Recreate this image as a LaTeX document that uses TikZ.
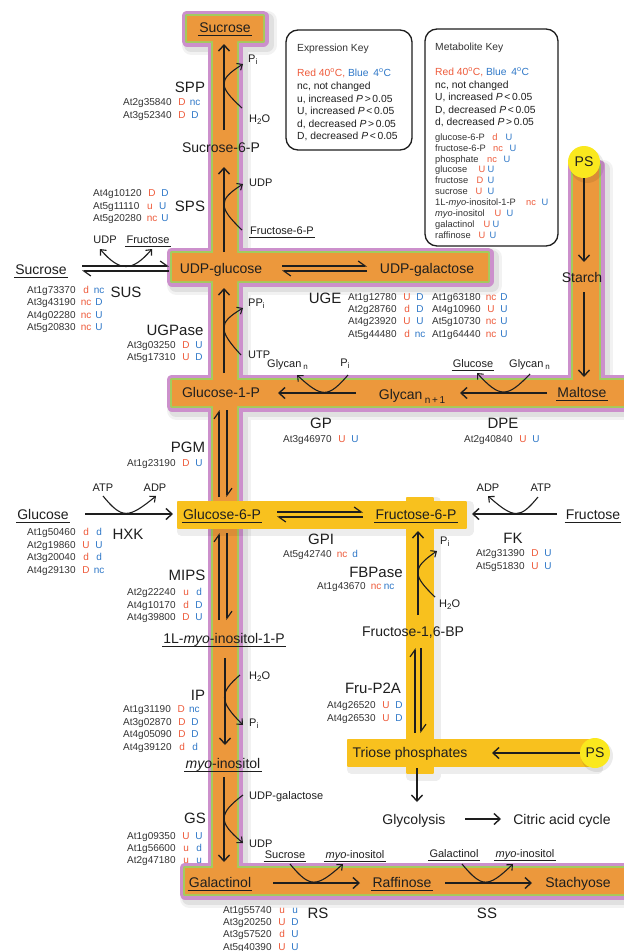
\documentclass[tikz,border=0pt]{standalone}
\usepackage{fontspec}
\setmainfont{Liberation Sans}
\usetikzlibrary{arrows.meta}
\definecolor{myred}{HTML}{EE5A3A}
\definecolor{myblue}{HTML}{2F78C8}
\definecolor{barorange}{HTML}{EC983C}
\definecolor{bargreen}{HTML}{A2CC5E}
\definecolor{barpurple}{HTML}{CC90CC}
\definecolor{baryellow}{HTML}{F8C11E}
\definecolor{psyellow}{HTML}{FAE81E}
\definecolor{ink}{HTML}{1E1E1E}
\definecolor{genegray}{HTML}{333333}
\newcommand\rc[1]{\makebox[13pt]{\textcolor{myred}{#1}}}
\newcommand\bc[1]{\makebox[13pt]{\textcolor{myblue}{#1}}}
\newcommand\gn[3]{#1\hspace{4pt}\rc{#2}\bc{#3}}
\newcommand\sbx[1]{\raisebox{-2.5pt}{\fontsize{8}{8}\selectfont #1}}
\newcommand\myo{\textit{myo}}
\newcommand\dg{\textsuperscript{o}}
\newcommand\mitem[7]{%
  \node[item] (#1) at (435,#2) {#3};
  \node[itemc,text=myred] (#1r) at (#4,#2) {#5};
  \node[itemc,text=myblue] (#1b) at (#6,#2) {#7};}
\def\barshape{(187,16) rectangle (263,41) (213,16) rectangle (237,893) (172,253) rectangle (488,281) (172,380) rectangle (632,406) (573,165) rectangle (599,406) (185,868) rectangle (632,894)}
\def\yshape{(178,502) rectangle (466,528) (407,498) rectangle (433,773) (348,740) rectangle (595,766)}
\begin{document}
\begin{tikzpicture}[x=1pt,y=-1pt,
  main/.style={font=\fontsize{14}{16}\selectfont, text=ink, inner xsep=1pt, inner ysep=0pt, text height=10pt, text depth=0pt},
  enz/.style={font=\fontsize{15}{17}\selectfont, text=ink, inner sep=0pt, text height=10.8pt, text depth=0pt},
  sm/.style={font=\fontsize{11}{13}\selectfont, text=ink, inner xsep=1pt, inner ysep=0pt, text height=8pt, text depth=0pt},
  gene/.style={font=\fontsize{10}{12}\selectfont, text=genegray, anchor=west, inner sep=0pt, text height=7.2pt, text depth=0pt},
  key/.style={font=\fontsize{10.3}{12}\selectfont, text=ink, anchor=west, inner sep=0pt, text height=7.2pt, text depth=0pt},
  item/.style={font=\fontsize{9.3}{10}\selectfont, text=genegray, anchor=west, inner sep=0pt, text height=6.5pt, text depth=0pt},
  itemc/.style={font=\fontsize{9.3}{10}\selectfont, inner sep=0pt, text height=6.5pt, text depth=0pt},
  ul/.style={append after command={([yshift=-3.5pt]\tikzlastnode.south west) edge[draw=ink, line width=0.8pt] ([yshift=-3.5pt]\tikzlastnode.south east)}},
  arr/.style={draw=ink, line width=1.4pt, -{Straight Barb[length=6pt,width=11pt]}},
  barr/.style={draw=ink, line width=1.1pt, -{Straight Barb[length=4.5pt,width=8pt]}},
  bbarr/.style={draw=ink, line width=1.1pt, {Straight Barb[length=4.5pt,width=8pt]}-{Straight Barb[length=4.5pt,width=8pt]}},
  harp/.style={draw=ink, line width=1.2pt, -{Straight Barb[harpoon,length=7pt,width=10pt]}},
  psnode/.style={circle, fill=psyellow, inner sep=0pt, font=\fontsize{14}{16}\selectfont, text=ink}
]
\useasboundingbox (0,0) rectangle (624,951);
\fill[white] (0,0) rectangle (624,951);
\clip (0,0) rectangle (624,951);

% ---------- coloured bands ----------
\begin{scope}[shift={(4,4)}]
  \draw[black, opacity=0.05, line width=19pt, line join=round] \barshape;
  \draw[black, opacity=0.07, line width=14pt, line join=round] \barshape;
\end{scope}
\draw[barpurple, fill=barpurple, line width=11pt, line join=round] \barshape;
\draw[bargreen, fill=bargreen, line width=4.5pt, line join=round] \barshape;
\fill[barorange] \barshape;

\begin{scope}[shift={(3,3)}]
  \draw[black, opacity=0.07, line width=9pt, line join=round] \yshape;
\end{scope}
\draw[baryellow, fill=baryellow, line width=2pt, line join=round] \yshape;

\fill[black, opacity=0.08] (587,166) circle (17);
\fill[black, opacity=0.08] (597,756) circle (16);
\node[psnode, minimum size=32pt] (ps1) at (584,162) {PS};
\node[psnode, minimum size=30pt] (ps2) at (595,753) {PS};

% ---------- key boxes ----------
\draw[ink, line width=1.3pt, rounded corners=12pt, fill=white] (286,30) rectangle (412,150);
\draw[ink, line width=1.3pt, rounded corners=12pt, fill=white] (425,29) rectangle (558,246);
\node[key] (ek0) at (297,48) {\textcolor{genegray}{Expression Key}};
\node[key] (ek1) at (297,73) {\textcolor{myred}{Red 40\dg C,} \textcolor{myblue}{Blue\, 4\dg C}};
\node[key] (ek2) at (297,86) {nc, not changed};
\node[key] (ek3) at (297,98.5) {u, increased \textit{P}\,>\,0.05};
\node[key] (ek4) at (297,111) {U, increased \textit{P}\,<\,0.05};
\node[key] (ek5) at (297,123.5) {d, decreased \textit{P}\,>\,0.05};
\node[key] (ek6) at (297,136) {D, decreased \textit{P}\,<\,0.05};
\node[key] (mk0) at (435,47) {\textcolor{genegray}{Metabolite Key}};
\node[key] (mk1) at (435,72) {\textcolor{myred}{Red 40\dg C,} \textcolor{myblue}{Blue\, 4\dg C}};
\node[key] (mk2) at (435,84.5) {nc, not changed};
\node[key] (mk3) at (435,97) {U, increased \textit{P}\,<\,0.05};
\node[key] (mk4) at (435,109.5) {D, decreased \textit{P}\,<\,0.05};
\node[key] (mk5) at (435,122) {d, decreased \textit{P}\,>\,0.05};
\mitem{mi1}{137}{glucose-6-P}{495}{d}{509}{U}
\mitem{mi2}{147.9}{fructose-6-P}{498}{nc}{513}{U}
\mitem{mi3}{158.8}{phosphate}{492}{nc}{507}{U}
\mitem{mi4}{169.7}{glucose}{482}{U}{491}{U}
\mitem{mi5}{180.6}{fructose}{480}{D}{491}{U}
\mitem{mi6}{191.5}{sucrose}{479}{U}{491}{U}
\mitem{mi7}{202.4}{1L-\myo-inositol-1-P}{531}{nc}{545}{U}
\mitem{mi8}{213.3}{\myo-inositol}{498}{U}{510}{U}
\mitem{mi9}{224.2}{galactinol}{487}{U}{496}{U}
\mitem{mi10}{235.1}{raffinose}{482}{U}{493}{U}

% ---------- metabolites ----------
\node[main, ul] (sucT) at (225,27) {Sucrose};
\node[main] (s6p) at (221,147) {Sucrose-6-P};
\node[main] (udpg) at (221,268) {UDP-glucose};
\node[main] (udpgal) at (427,268) {UDP-galactose};
\node[main] (g1p) at (221,392) {Glucose-1-P};
\node[main] (glycn1) at (412,394) {Glycan\,\raisebox{-4pt}{\fontsize{10}{10}\selectfont n\,+\,1}};
\node[main, ul] (malt) at (582,392) {Maltose};
\node[main] (starch) at (582,277) {Starch};
\node[main, ul] (glcL) at (43,514) {Glucose};
\node[main, ul] (g6p) at (222,514) {Glucose-6-P};
\node[main, ul] (f6p) at (416,514) {Fructose-6-P};
\node[main, ul] (fruR) at (593,514) {Fructose};
\node[main] (f16bp) at (413,631) {Fructose-1,6-BP};
\node[main, ul] (mip) at (224,638) {1L-\myo-inositol-1-P};
\node[main, ul] (myo) at (223,763) {\myo-inositol};
\node[main] (triose) at (410,752) {Triose phosphates};
\node[main] (glyco) at (414,819) {Glycolysis};
\node[main] (tca) at (562,819) {Citric acid cycle};
\node[main, ul] (galact) at (220,882) {Galactinol};
\node[main, ul] (raff) at (402,882) {Raffinose};
\node[main] (stach) at (578,882) {Stachyose};
\node[main, ul] (sucL) at (41,269) {Sucrose};

% ---------- enzymes ----------
\node[enz] (eSPP) at (190,87) {SPP};
\node[enz] (eSPS) at (190,206) {SPS};
\node[enz] (eSUS) at (126,292) {SUS};
\node[enz] (eUGP) at (175,330) {UGPase};
\node[enz] (eUGE) at (325,298) {UGE};
\node[enz] (eGP) at (321,423) {GP};
\node[enz] (eDPE) at (503,423) {DPE};
\node[enz] (ePGM) at (188,447) {PGM};
\node[enz] (eHXK) at (128,534) {HXK};
\node[enz] (eGPI) at (321,539) {GPI};
\node[enz] (eFK) at (513,538) {FK};
\node[enz] (eFBP) at (376,572) {FBPase};
\node[enz] (eMIPS) at (187,575) {MIPS};
\node[enz] (eFRU) at (373,688) {Fru-P2A};
\node[enz] (eIP) at (198,695) {IP};
\node[enz] (eGS) at (195,818) {GS};
\node[enz] (eRS) at (318,913) {RS};
\node[enz] (eSS) at (487,913) {SS};

% ---------- co-substrates ----------
\node[sm, anchor=west] (sppPi) at (247,58) {P\sbx{i}};
\node[sm, anchor=west] (sppH2O) at (248,118) {H\sbx{2}O};
\node[sm, anchor=west] (spsUDP) at (248,182) {UDP};
\node[sm, anchor=west, ul] (spsF6P) at (249,230) {Fructose-6-P};
\node[sm] (susUDP) at (105,239) {UDP};
\node[sm, ul] (susFru) at (148,239) {Fructose};
\node[sm, anchor=west] (ugpPPi) at (247,302) {PP\sbx{i}};
\node[sm, anchor=west] (ugpUTP) at (247,354) {UTP};
\node[sm, anchor=west] (gpGly) at (266,363) {Glycan\,\sbx{n}};
\node[sm] (gpPi) at (345,362) {P\sbx{i}};
\node[sm, ul] (dpeGlc) at (473,363) {Glucose};
\node[sm, anchor=west] (dpeGly) at (508,363) {Glycan\,\sbx{n}};
\node[sm] (hxkATP) at (103,487) {ATP};
\node[sm] (hxkADP) at (155,487) {ADP};
\node[sm] (fkADP) at (488,487) {ADP};
\node[sm] (fkATP) at (541,487) {ATP};
\node[sm, anchor=west] (fbPi) at (439,540) {P\sbx{i}};
\node[sm, anchor=west] (fbH2O) at (438,603) {H\sbx{2}O};
\node[sm, anchor=west] (ipH2O) at (248,675) {H\sbx{2}O};
\node[sm, anchor=west] (ipPi) at (248,722) {P\sbx{i}};
\node[sm, anchor=west] (gsUDPgal) at (248,795) {UDP-galactose};
\node[sm, anchor=west] (gsUDP) at (248,843) {UDP};
\node[sm, ul] (rsSuc) at (285,854) {Sucrose};
\node[sm, ul] (rsMyo) at (355,854) {\myo-inositol};
\node[sm, ul] (ssGal) at (454,853) {Galactinol};
\node[sm, ul] (ssMyo) at (525,853) {\myo-inositol};

% ---------- genes ----------
\node[gene] (g01) at (123,102) {\gn{At2g35840}{D}{nc}};
\node[gene] (g02) at (123,115) {\gn{At3g52340}{D}{D}};
\node[gene] (g03) at (93,193) {\gn{At4g10120}{D}{D}};
\node[gene] (g04) at (93,206) {\gn{At5g11110}{u}{U}};
\node[gene] (g05) at (93,218) {\gn{At5g20280}{nc}{U}};
\node[gene] (g06) at (27,290) {\gn{At1g73370}{d}{nc}};
\node[gene] (g07) at (27,302) {\gn{At3g43190}{nc}{D}};
\node[gene] (g08) at (27,314.5) {\gn{At4g02280}{nc}{U}};
\node[gene] (g09) at (27,327) {\gn{At5g20830}{nc}{U}};
\node[gene] (g10) at (127,345) {\gn{At3g03250}{D}{U}};
\node[gene] (g11) at (127,357) {\gn{At5g17310}{U}{D}};
\node[gene] (g12) at (348,297) {\gn{At1g12780}{U}{D}};
\node[gene] (g13) at (348,309) {\gn{At2g28760}{d}{D}};
\node[gene] (g14) at (348,321) {\gn{At4g23920}{U}{U}};
\node[gene] (g15) at (348,334) {\gn{At5g44480}{d}{nc}};
\node[gene] (g16) at (432,297) {\gn{At1g63180}{nc}{D}};
\node[gene] (g17) at (432,309) {\gn{At4g10960}{U}{U}};
\node[gene] (g18) at (432,321) {\gn{At5g10730}{nc}{U}};
\node[gene] (g19) at (432,334) {\gn{At1g64440}{nc}{U}};
\node[gene] (g20) at (283,439) {\gn{At3g46970}{U}{U}};
\node[gene] (g21) at (464,439) {\gn{At2g40840}{U}{U}};
\node[gene] (g22) at (127,463) {\gn{At1g23190}{D}{U}};
\node[gene] (g23) at (27,532) {\gn{At1g50460}{d}{d}};
\node[gene] (g24) at (27,544.5) {\gn{At2g19860}{U}{U}};
\node[gene] (g25) at (27,557) {\gn{At3g20040}{d}{d}};
\node[gene] (g26) at (27,569.5) {\gn{At4g29130}{D}{nc}};
\node[gene] (g27) at (283,554) {\gn{At5g42740}{nc}{d}};
\node[gene] (g28) at (476,553) {\gn{At2g31390}{D}{U}};
\node[gene] (g29) at (476,566) {\gn{At5g51830}{U}{U}};
\node[gene] (g30) at (317,586) {\gn{At1g43670}{nc}{nc}};
\node[gene] (g31) at (127,592) {\gn{At2g22240}{u}{d}};
\node[gene] (g32) at (127,604.5) {\gn{At4g10170}{d}{D}};
\node[gene] (g33) at (127,617) {\gn{At4g39800}{D}{U}};
\node[gene] (g34) at (327,705) {\gn{At4g26520}{U}{D}};
\node[gene] (g35) at (327,718) {\gn{At4g26530}{U}{D}};
\node[gene] (g36) at (123,709) {\gn{At1g31190}{D}{nc}};
\node[gene] (g37) at (123,721.5) {\gn{At3g02870}{D}{D}};
\node[gene] (g38) at (123,734) {\gn{At4g05090}{D}{D}};
\node[gene] (g39) at (123,746.5) {\gn{At4g39120}{d}{d}};
\node[gene] (g40) at (127,836) {\gn{At1g09350}{U}{U}};
\node[gene] (g41) at (127,848) {\gn{At1g56600}{u}{d}};
\node[gene] (g42) at (127,860) {\gn{At2g47180}{u}{u}};
\node[gene] (g43) at (223,910) {\gn{At1g55740}{u}{u}};
\node[gene] (g44) at (223,922) {\gn{At3g20250}{U}{D}};
\node[gene] (g45) at (223,934) {\gn{At3g57520}{d}{U}};
\node[gene] (g46) at (223,946.5) {\gn{At5g40390}{U}{U}};

% ---------- coordinates for connectors ----------
\coordinate (sppA) at (224,130); \coordinate (sppB) at (224,44);
\coordinate (sppH) at (242,108); \coordinate (sppP) at (243,64);
\coordinate (spsA) at (224,252); \coordinate (spsB) at (224,167);
\coordinate (spsF) at (242,230); \coordinate (spsU) at (243,184);
\coordinate (ugpA) at (224,373); \coordinate (ugpB) at (224,288);
\coordinate (ugpT) at (241,355); \coordinate (ugpP) at (243,308);
\coordinate (ipA) at (225,658); \coordinate (ipB) at (225,745);
\coordinate (ipH) at (240,675); \coordinate (ipP) at (243,725);
\coordinate (gsA) at (224,777); \coordinate (gsB) at (224,862);
\coordinate (gsG) at (243,795); \coordinate (gsU) at (243,843);
\coordinate (fbA) at (418,615); \coordinate (fbB) at (418,531);
\coordinate (fbH) at (435,597); \coordinate (fbP) at (437,551);
\coordinate (susL1) at (82,266); \coordinate (susR1) at (169,266);
\coordinate (susL2) at (82,271); \coordinate (susR2) at (169,271);
\coordinate (susU) at (100,249); \coordinate (susF) at (152,249);
\coordinate (ugeL1) at (282,266); \coordinate (ugeR1) at (367,266);
\coordinate (ugeL2) at (282,271); \coordinate (ugeR2) at (367,271);
\coordinate (gpA) at (356,393); \coordinate (gpB) at (278,393);
\coordinate (gpP) at (348,375); \coordinate (gpG) at (297,375);
\coordinate (dpeA) at (547,393); \coordinate (dpeB) at (460,393);
\coordinate (dpeG) at (530,374); \coordinate (dpeC) at (477,373);
\coordinate (hxA) at (85,514); \coordinate (hxB) at (173,514);
\coordinate (hxT) at (103,496); \coordinate (hxD) at (156,496);
\coordinate (fkA) at (557,514); \coordinate (fkB) at (472,514);
\coordinate (fkT) at (538,497); \coordinate (fkD) at (488,496);
\coordinate (gpiL1) at (277,512); \coordinate (gpiR1) at (363,512);
\coordinate (gpiL2) at (277,517); \coordinate (gpiR2) at (363,517);
\coordinate (pgmT1) at (219,410); \coordinate (pgmB1) at (219,497);
\coordinate (pgmT2) at (227,410); \coordinate (pgmB2) at (227,497);
\coordinate (mipsT1) at (219,533); \coordinate (mipsB1) at (219,620);
\coordinate (mipsT2) at (227,533); \coordinate (mipsB2) at (227,620);
\coordinate (fruT1) at (415,648); \coordinate (fruB1) at (415,733);
\coordinate (fruT2) at (421,648); \coordinate (fruB2) at (421,733);
\coordinate (stA) at (584,262); \coordinate (stB) at (584,292); \coordinate (stC) at (584,377);
\coordinate (trB) at (492,753);
\coordinate (glA) at (417,768); \coordinate (glB) at (417,802);
\coordinate (tcA) at (465,819); \coordinate (tcB) at (501,819);
\coordinate (rsA) at (273,883); \coordinate (rsB) at (360,883);
\coordinate (rsS) at (290,864); \coordinate (rsM) at (343,864);
\coordinate (ssA) at (445,883); \coordinate (ssB) at (532,883);
\coordinate (ssG) at (462,864); \coordinate (ssM) at (513,864);

% ---------- connectors ----------
\draw[arr] (sppA) -- (sppB);
\draw[barr] (sppH) .. controls (218,86) and (218,80) .. (sppP);
\draw[arr] (spsA) -- (spsB);
\draw[barr] (spsF) .. controls (218,207) and (218,200) .. (spsU);
\draw[arr] (ugpA) -- (ugpB);
\draw[barr] (ugpT) .. controls (218,330) and (218,323) .. (ugpP);
\draw[arr] (ipA) -- (ipB);
\draw[barr] (ipH) .. controls (219,693) and (219,701) .. (ipP);
\draw[arr] (gsA) -- (gsB);
\draw[barr] (gsG) .. controls (218,814) and (218,822) .. (gsU);
\draw[arr] (fbA) -- (fbB);
\draw[barr] (fbH) .. controls (412,575) and (412,568) .. (fbP);

\draw[harp] (susL1) -- (susR1);
\draw[harp] (susR2) -- (susL2);
\draw[bbarr] (susU) .. controls (120,272) and (132,272) .. (susF);
\draw[harp] (ugeL1) -- (ugeR1);
\draw[harp] (ugeR2) -- (ugeL2);
\draw[arr] (gpA) -- (gpB);
\draw[barr] (gpP) .. controls (328,398) and (322,398) .. (gpG);
\draw[arr] (dpeA) -- (dpeB);
\draw[barr] (dpeG) .. controls (507,398) and (500,398) .. (dpeC);
\draw[arr] (hxA) -- (hxB);
\draw[barr] (hxT) .. controls (122,519) and (128,519) .. (hxD);
\draw[arr] (fkA) -- (fkB);
\draw[barr] (fkT) .. controls (520,519) and (514,519) .. (fkD);
\draw[harp] (gpiL1) -- (gpiR1);
\draw[harp] (gpiR2) -- (gpiL2);
\draw[harp] (pgmB1) -- (pgmT1);
\draw[harp] (pgmT2) -- (pgmB2);
\draw[harp] (mipsB1) -- (mipsT1);
\draw[harp] (mipsT2) -- (mipsB2);
\draw[harp] (fruB1) -- (fruT1);
\draw[harp] (fruT2) -- (fruB2);
\draw[arr] (ps1.south) -- (stA);
\draw[arr] (stB) -- (stC);
\draw[arr] (ps2.west) -- (trB);
\draw[arr] (glA) -- (glB);
\draw[arr] (tcA) -- (tcB);
\draw[arr] (rsA) -- (rsB);
\draw[barr] (rsS) .. controls (310,888) and (316,888) .. (rsM);
\draw[arr] (ssA) -- (ssB);
\draw[barr] (ssG) .. controls (482,888) and (488,888) .. (ssM);
\end{tikzpicture}
\end{document}
